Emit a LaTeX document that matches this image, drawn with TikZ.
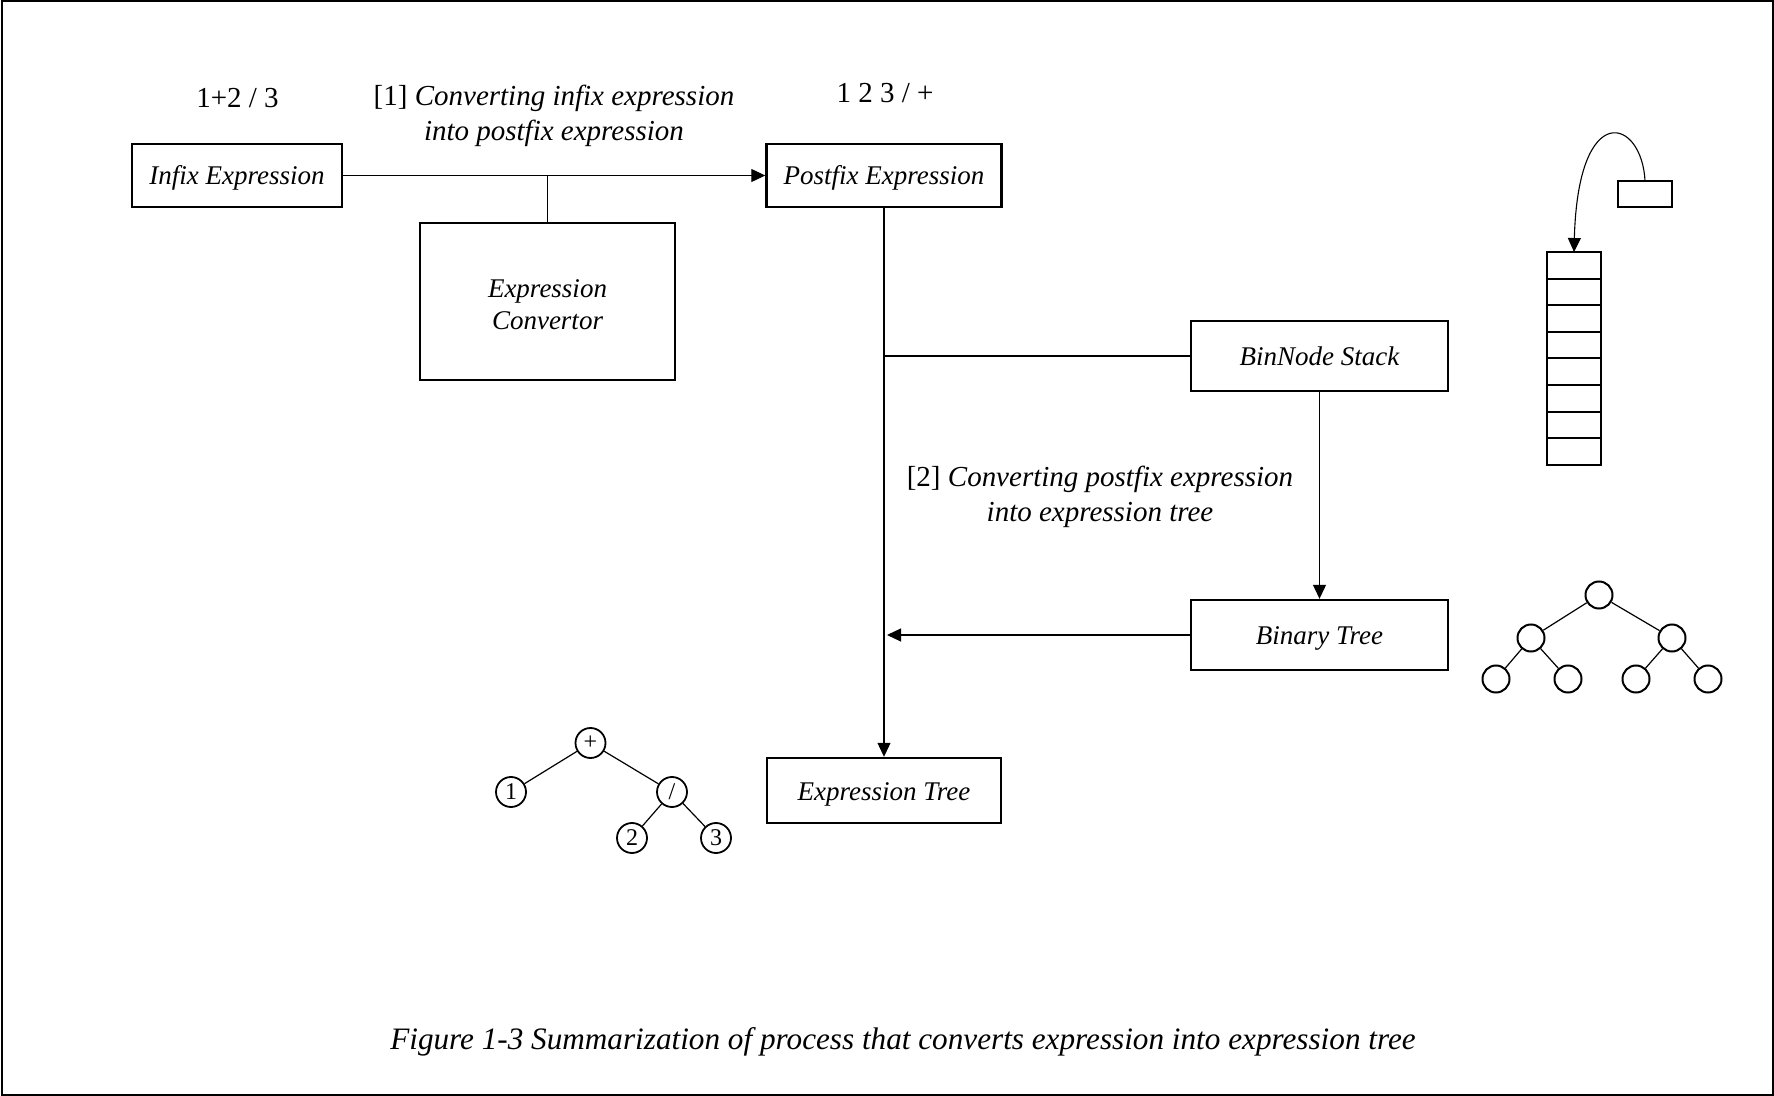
\documentclass[tikz,border=0pt]{standalone}
\usepackage{fontspec}
\setmainfont{Liberation Serif}
\usetikzlibrary{arrows.meta}
\begin{document}
\begin{tikzpicture}[x=0.5pt,y=-0.5pt,
  boxbase/.style={draw, line width=1.2pt, inner sep=0pt, font=\fontsize{13.5}{16}\selectfont\itshape},
  box/.style={boxbase, text height=12.5pt, text depth=3pt},
  conn/.style={line width=0.55pt},
  arr/.style={conn, -{Triangle[length=7pt,width=6.5pt]}},
  lbl/.style={font=\fontsize{14.5}{17.5}\selectfont, align=center, inner sep=0pt},
  tn/.style={draw, circle, line width=0.9pt, minimum size=15pt, inner sep=0pt, font=\fontsize{12}{12}\selectfont},
  en/.style={draw, circle, line width=1pt, minimum size=13.5pt, inner sep=0pt},
  cell/.style={draw, line width=1pt, minimum width=27pt, minimum height=13.3pt, inner sep=0pt, outer sep=0pt},
  tedge/.style={line width=0.6pt},
]
\useasboundingbox (0,0) rectangle (1774,1096);
\draw[line width=1pt] (1.5,1.5) rectangle (1772.5,1094.5);

% main boxes
\node[box, minimum width=105pt, minimum height=31.5pt] (infix) at (237,175.5) {Infix Expression};
\node[box, minimum width=117.5pt, minimum height=31.5pt] (postfix) at (884,175.5) {Postfix Expression};
\node[boxbase, align=center, text height=30.6pt, text depth=3pt, minimum width=127.5pt, minimum height=78.5pt] (conv) at (547.5,301.5) {Expression\\Convertor};
\node[box, minimum width=128.5pt, minimum height=35pt] (stack) at (1319.5,356) {BinNode Stack};
\node[box, minimum width=128.5pt, minimum height=35pt] (bt) at (1319.5,635) {Binary Tree};
\node[box, minimum width=117pt, minimum height=32.5pt] (et) at (884,790.5) {Expression Tree};

% labels
\node[lbl] (infixval) at (237.5,98.5) {1+2 / 3};
\node[lbl] (postval) at (885,93) {1 2 3 / +};
\node[lbl] (step1) at (554,116) {[1] \textit{Converting infix expression}\\\textit{into postfix expression}};
\node[lbl] (step2) at (1100,496.5) {[2] \textit{Converting postfix expression}\\\textit{into expression tree}};
\node[lbl, font=\fontsize{15.6}{18}\selectfont] (caption) at (903,1042) {\textit{Figure 1-3 Summarization of process that converts expression into expression tree}};

% connectors
\draw[arr] (infix.east) -- (postfix.west);
\coordinate (j1) at (conv.north |- infix.east);
\draw[conn] (j1) -- (conv.north);
\draw[arr] (postfix.south) -- (et.north);
\coordinate (j2) at (postfix.south |- stack.west);
\draw[conn] (j2) -- (stack.west);
\draw[arr] (stack.south) -- (bt.north);
\coordinate (j3) at (887,635);
\draw[arr] (bt.west) -- (j3);

% stack illustration
\node[cell] (s1) at (1574,265.3) {};
\node[cell, anchor=north] (s2) at (s1.south) {};
\node[cell, anchor=north] (s3) at (s2.south) {};
\node[cell, anchor=north] (s4) at (s3.south) {};
\node[cell, anchor=north] (s5) at (s4.south) {};
\node[cell, anchor=north] (s6) at (s5.south) {};
\node[cell, anchor=north] (s7) at (s6.south) {};
\node[cell, anchor=north] (s8) at (s7.south) {};
\node[cell, minimum height=13pt] (top) at (1645,194) {};
\draw[arr] (top.north) .. controls (1642,118) and (1578,98) .. (s1.north);

% generic binary tree
\node[en] (r) at (1599,595) {};
\node[en] (a) at (1531,638) {};
\node[en] (b) at (1672,638) {};
\node[en] (a1) at (1496,679) {};
\node[en] (a2) at (1568,679) {};
\node[en] (b1) at (1636,679) {};
\node[en] (b2) at (1708,679) {};
\draw[tedge] (r) -- (a) (r) -- (b) (a) -- (a1) (a) -- (a2) (b) -- (b1) (b) -- (b2);

% expression tree example
\node[tn] (plus) at (590.5,743) {+};
\node[tn] (one) at (511,792) {1};
\node[tn] (div) at (672,792) {/};
\node[tn] (two) at (632,838) {2};
\node[tn] (three) at (716,838) {3};
\draw[tedge] (plus) -- (one) (plus) -- (div) (div) -- (two) (div) -- (three);
\end{tikzpicture}
\end{document}
